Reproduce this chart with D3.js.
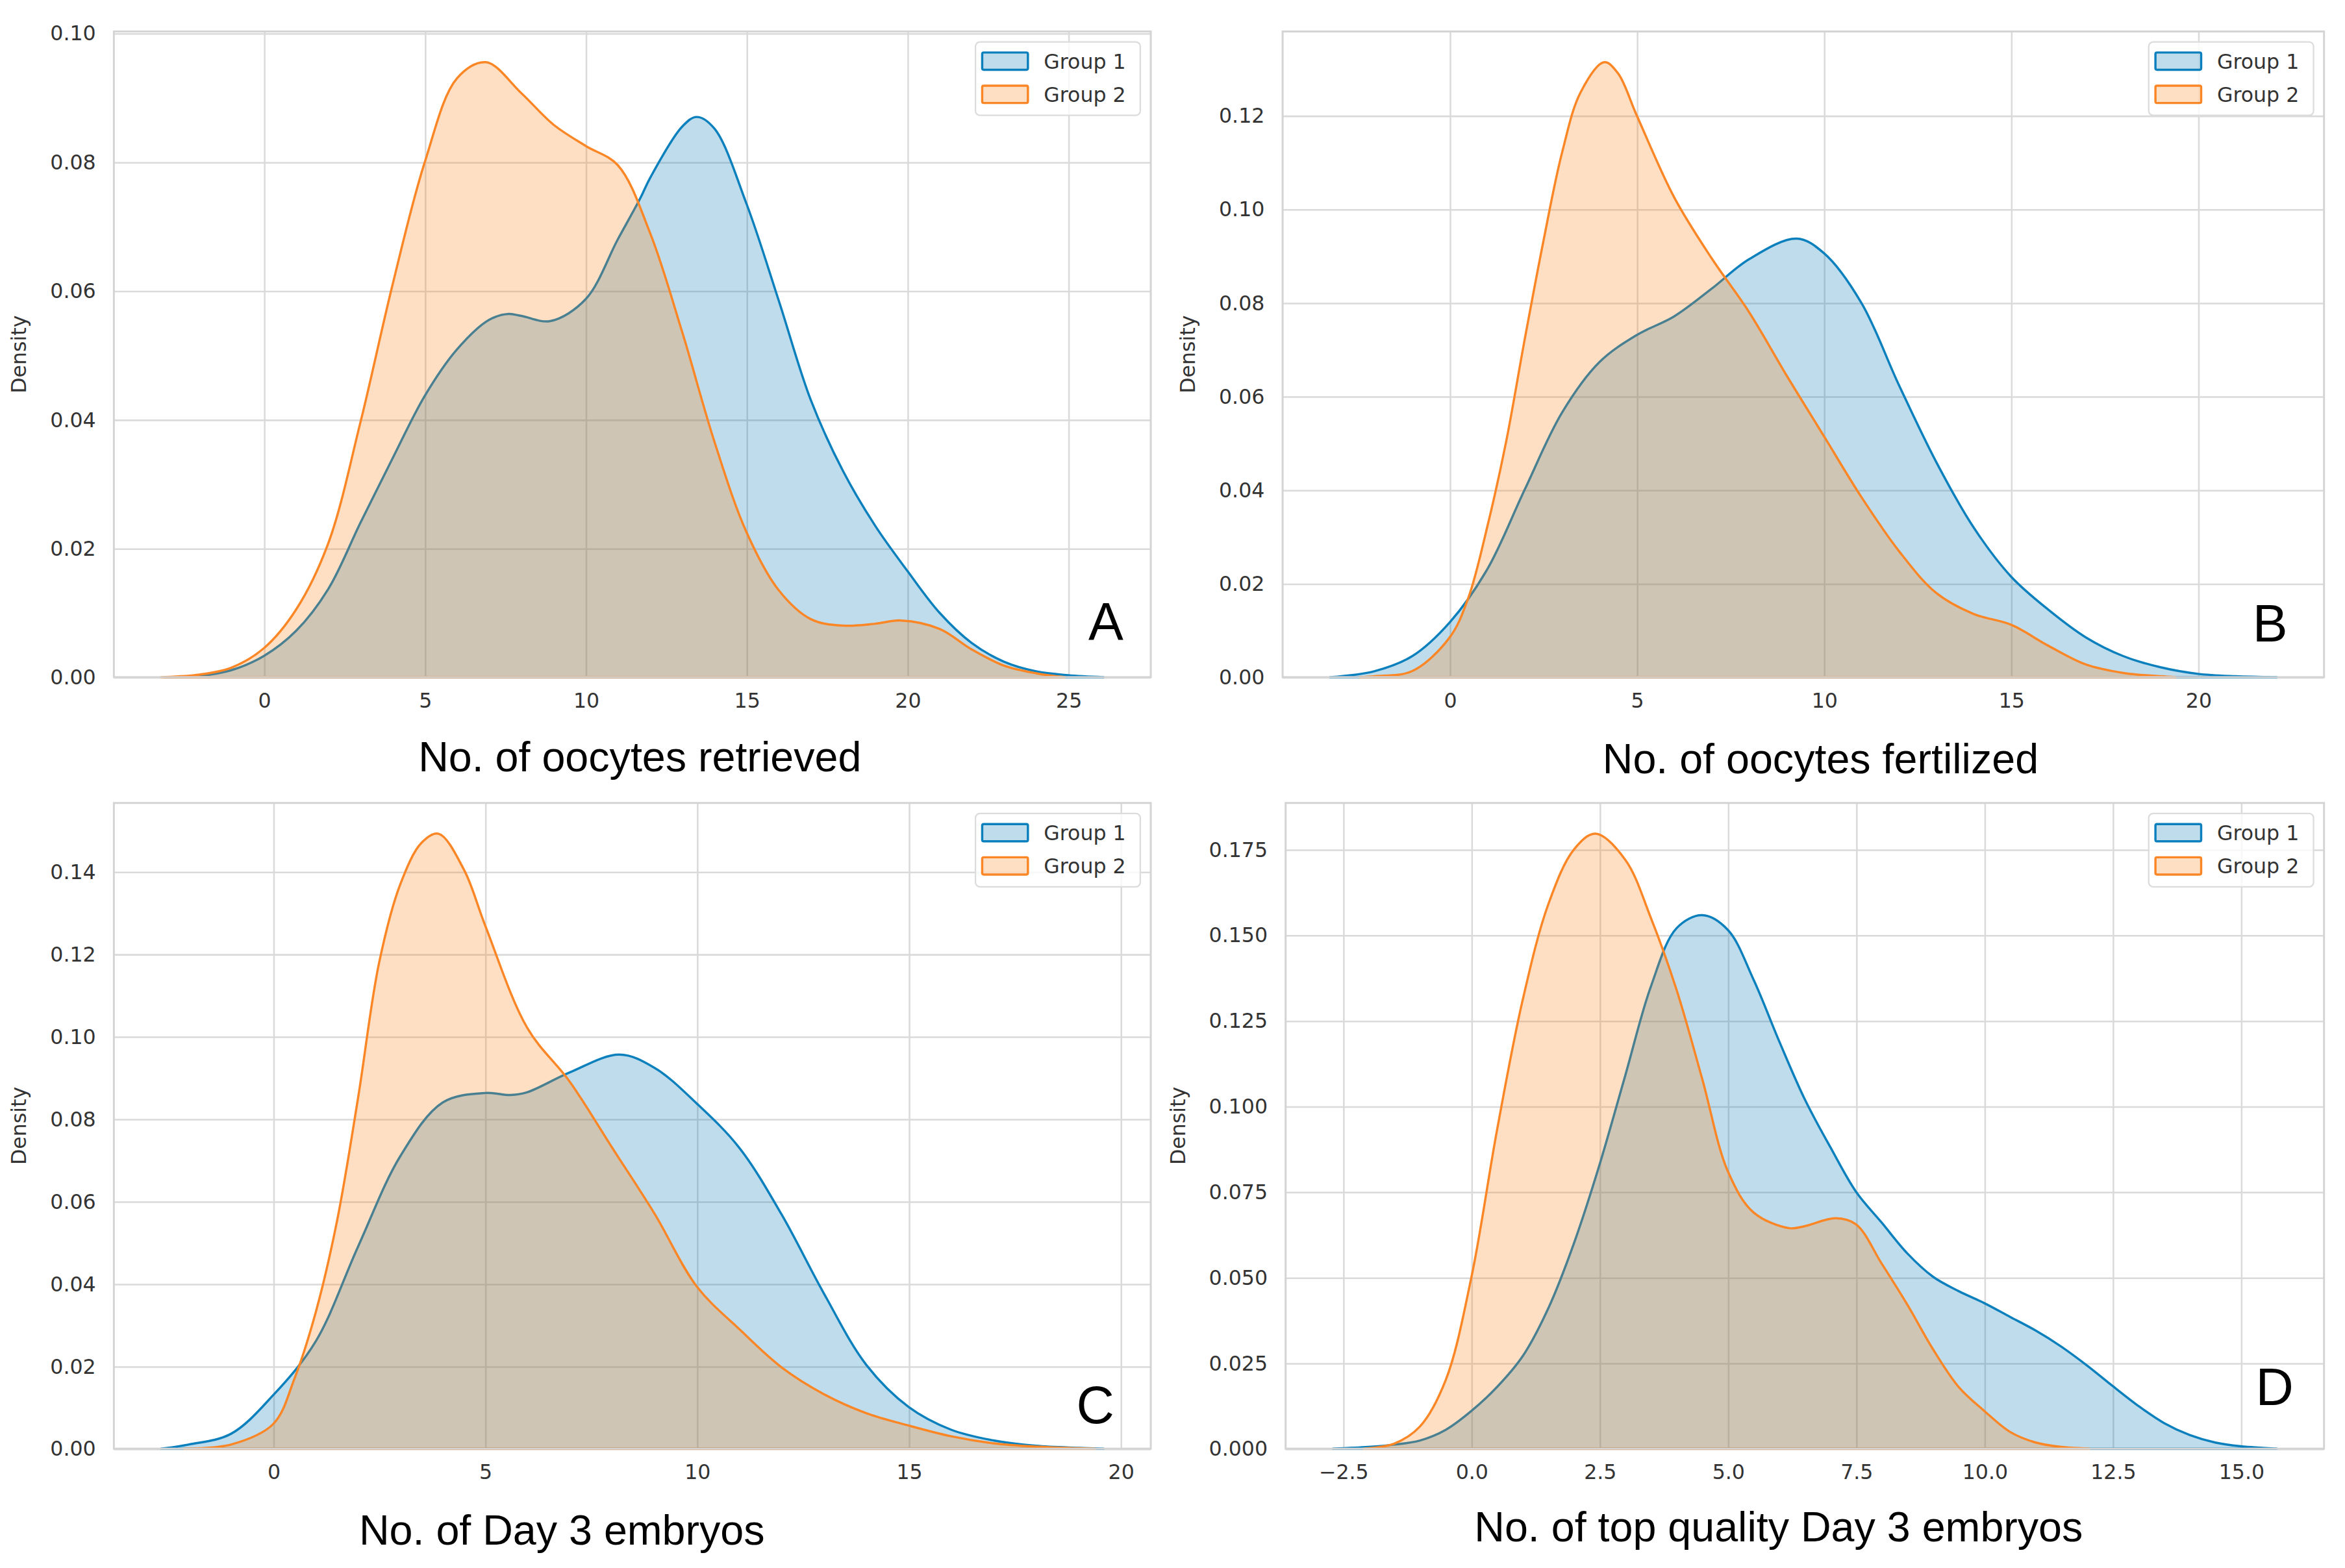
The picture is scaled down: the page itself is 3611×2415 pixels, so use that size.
<!DOCTYPE html>
<html>
<head>
<meta charset="utf-8">
<script src="https://cdn.jsdelivr.net/npm/d3@7"></script>
<style>
  body { margin: 0; background: #fff; }
</style>
</head>
<body>
<svg id="fig"></svg>
<script>
// ---- data: KDE curves (x value, density) ----
var groups = ["Group 1", "Group 2"];
var panelLetters = ["A", "B", "C", "D"];
var axisTitles = ["No. of oocytes retrieved", "No. of oocytes fertilized",
                  "No. of Day 3 embryos", "No. of top quality Day 3 embryos"];

// A: oocytes retrieved
var retrievedG1x = [-3.1, -2, -1, 0, 1, 2, 3, 4, 5, 6, 7, 7.6, 8, 8.9, 10, 11, 11.7, 12, 13, 13.45, 14, 15, 16, 17, 18, 19, 20, 21, 22, 23, 24, 25, 26.1];
var retrievedG1y = [0, 0.0002, 0.0011, 0.0033, 0.0072, 0.0137, 0.024, 0.034, 0.0437, 0.0509, 0.0555, 0.0564, 0.0561, 0.0553, 0.0587, 0.068, 0.0744, 0.0775, 0.0855, 0.087, 0.0852, 0.0735, 0.0585, 0.043, 0.032, 0.0235, 0.0165, 0.010, 0.0053, 0.0024, 0.0009, 0.0003, 0];
var retrievedG2x = [-3.2, -2, -1, 0, 1, 2, 3, 4, 5, 6, 6.9, 8, 9, 10, 11, 12, 13, 14, 15, 16, 17, 18, 19, 19.8, 21, 22, 23, 24, 24.9];
var retrievedG2y = [0, 0.0004, 0.0015, 0.0045, 0.0105, 0.0208, 0.0396, 0.061, 0.080, 0.093, 0.0955, 0.0907, 0.0858, 0.0825, 0.0795, 0.069, 0.0536, 0.0366, 0.0225, 0.0135, 0.009, 0.008, 0.0083, 0.0088, 0.0075, 0.0043, 0.0018, 0.0006, 0];

// B: oocytes fertilized
var fertilizedG1x = [-3.2, -2, -1, 0, 1, 2, 3, 4, 5, 6, 7, 8, 9.27, 10, 11, 12, 13, 14, 15, 16, 17, 18, 19, 20, 21, 22.1];
var fertilizedG1y = [0, 0.0013, 0.0045, 0.0117, 0.023, 0.040, 0.0565, 0.0673, 0.0731, 0.0771, 0.083, 0.0893, 0.0937, 0.0906, 0.080, 0.0625, 0.046, 0.032, 0.0215, 0.0144, 0.0085, 0.0045, 0.0021, 0.0007, 0.0002, 0];
var fertilizedG2x = [-2.4, -2, -1, 0, 0.5, 1, 1.5, 2, 2.5, 3, 3.5, 4.13, 4.5, 5, 6, 7, 8, 9, 10, 11, 12, 13, 14, 15, 16, 17, 18, 19, 19.4];
var fertilizedG2y = [0, 0.0002, 0.0013, 0.0085, 0.017, 0.032, 0.05, 0.072, 0.093, 0.112, 0.125, 0.1314, 0.129, 0.12, 0.1025, 0.0895, 0.078, 0.0645, 0.0515, 0.0385, 0.027, 0.018, 0.0135, 0.0112, 0.0067, 0.0027, 0.0009, 0.0002, 0];

// C: Day 3 embryos
var day3G1x = [-2.65, -2, -1, 0, 1, 2, 3, 4, 5, 5.6, 6, 7, 8.17, 9, 10, 11, 12, 13, 14, 15, 16, 17, 18, 19, 19.6];
var day3G1y = [0, 0.001, 0.0036, 0.013, 0.026, 0.049, 0.071, 0.084, 0.0863, 0.0858, 0.0865, 0.0913, 0.0956, 0.0924, 0.0837, 0.073, 0.0568, 0.0376, 0.0203, 0.0101, 0.0046, 0.002, 0.0007, 0.0002, 0];
var day3G2x = [-2.1, -1, 0, 0.5, 1, 1.5, 2, 2.5, 3, 3.5, 3.9, 4.5, 5, 6, 7, 8, 9, 10, 11, 12, 13, 14, 15, 16, 17, 18, 19, 19.4];
var day3G2y = [0, 0.001, 0.006, 0.017, 0.033, 0.055, 0.085, 0.118, 0.137, 0.147, 0.1492, 0.1405, 0.127, 0.102, 0.089, 0.073, 0.057, 0.0393, 0.029, 0.0197, 0.0132, 0.0086, 0.0056, 0.003, 0.0013, 0.0005, 0.0001, 0];

// D: top quality Day 3 embryos
var topG1x = [-2.7, -2, -1.5, -1, -0.5, 0, 0.5, 1, 1.5, 2, 2.5, 3, 3.5, 4, 4.5, 5, 5.5, 6, 6.5, 7, 7.5, 8, 8.5, 9, 9.5, 10, 10.5, 11, 11.5, 12, 12.5, 13, 13.5, 14, 14.5, 15, 15.7];
var topG1y = [0, 0.0005, 0.0012, 0.0024, 0.0055, 0.011, 0.018, 0.027, 0.041, 0.060, 0.083, 0.109, 0.135, 0.152, 0.1558, 0.1515, 0.137, 0.119, 0.102, 0.088, 0.075, 0.066, 0.057, 0.0502, 0.046, 0.0425, 0.0385, 0.0345, 0.0298, 0.0243, 0.0183, 0.0125, 0.0075, 0.004, 0.0018, 0.0007, 0];
var topG2x = [-2.1, -1.5, -1, -0.5, 0, 0.5, 1, 1.5, 2, 2.42, 3, 3.5, 4, 4.5, 5, 5.5, 6.2, 6.5, 7.1, 7.5, 8, 8.5, 9, 9.5, 10, 10.5, 11, 11.5, 12.05];
var topG2y = [0, 0.0015, 0.0065, 0.02, 0.05, 0.093, 0.131, 0.159, 0.175, 0.1796, 0.172, 0.155, 0.134, 0.108, 0.081, 0.069, 0.0644, 0.065, 0.0673, 0.0655, 0.054, 0.042, 0.029, 0.018, 0.011, 0.0049, 0.0018, 0.0005, 0];

// tick values
var xTicksA = [0, 5, 10, 15, 20, 25];
var xTicksB = [0, 5, 10, 15, 20];
var xTicksC = [0, 5, 10, 15, 20];
var xTicksD = [-2.5, 0, 2.5, 5, 7.5, 10, 12.5, 15];
var yTicksA = [0, 0.02, 0.04, 0.06, 0.08, 0.10];
var yTicksB = [0, 0.02, 0.04, 0.06, 0.08, 0.10, 0.12];
var yTicksC = [0, 0.02, 0.04, 0.06, 0.08, 0.10, 0.12, 0.14];
var yTicksD = [0, 0.025, 0.05, 0.075, 0.1, 0.125, 0.15, 0.175];

// ---- layout (design units, scaled up through the viewBox) ----
var W = 3611, H = 2415;
var DW = 1565, DH = H * DW / W;

var colors = ["#0173b2", "#ff7f0e"];
var strokes = ["#0c80bd", "#fb8626"];

var svg = d3.select("#fig")
    .attr("width", W)
    .attr("height", H)
    .attr("viewBox", "0 0 " + DW + " " + DH);

svg.append("rect").attr("width", DW).attr("height", DH).attr("fill", "#fff");

var panels = [
  { letter: panelLetters[0], title: axisTitles[0],
    series: [[retrievedG1x, retrievedG1y], [retrievedG2x, retrievedG2y]],
    xTicks: xTicksA, yTicks: yTicksA, xFmt: d3.format("d"), yFmt: d3.format(".2f"),
    box: [76, 768, 21, 452], titlePos: [427, 515], letterPos: [738, 427] },
  { letter: panelLetters[1], title: axisTitles[1],
    series: [[fertilizedG1x, fertilizedG1y], [fertilizedG2x, fertilizedG2y]],
    xTicks: xTicksB, yTicks: yTicksB, xFmt: d3.format("d"), yFmt: d3.format(".2f"),
    box: [856, 1551, 21, 452], titlePos: [1215, 516], letterPos: [1515, 428] },
  { letter: panelLetters[2], title: axisTitles[2],
    series: [[day3G1x, day3G1y], [day3G2x, day3G2y]],
    xTicks: xTicksC, yTicks: yTicksC, xFmt: d3.format("d"), yFmt: d3.format(".2f"),
    box: [76, 768, 536, 967], titlePos: [375, 1031], letterPos: [731, 950] },
  { letter: panelLetters[3], title: axisTitles[3],
    series: [[topG1x, topG1y], [topG2x, topG2y]],
    xTicks: xTicksD, yTicks: yTicksD, xFmt: d3.format(".1f"), yFmt: d3.format(".3f"),
    box: [858, 1551, 536, 967], titlePos: [1187, 1029], letterPos: [1518, 938] }
];

panels.forEach(function (p) {
  var l = p.box[0], r = p.box[1], t = p.box[2], b = p.box[3];

  var pts = p.series.map(function (s) {
    return s[0].map(function (xv, i) { return { x: xv, y: s[1][i] }; });
  });
  var allX = d3.merge(p.series.map(function (s) { return s[0]; }));
  var allY = d3.merge(p.series.map(function (s) { return s[1]; }));
  var xmin = d3.min(allX), xmax = d3.max(allX), pad = (xmax - xmin) * 0.05;

  var x = d3.scaleLinear().domain([xmin - pad, xmax + pad]).range([l, r]);
  var y = d3.scaleLinear().domain([0, d3.max(allY) * 1.05]).range([b, t]);

  var g = svg.append("g");

  // grid + tick labels
  var xAxis = g.append("g")
      .attr("transform", "translate(0," + b + ")")
      .call(d3.axisBottom(x).tickValues(p.xTicks).tickFormat(p.xFmt)
            .tickSize(-(b - t)).tickPadding(10.5));
  var yAxis = g.append("g")
      .attr("transform", "translate(" + l + ",0)")
      .call(d3.axisLeft(y).tickValues(p.yTicks).tickFormat(p.yFmt)
            .tickSize(-(r - l)).tickPadding(12));

  [xAxis, yAxis].forEach(function (a) {
    a.select(".domain").remove();
    a.attr("font-family", "DejaVu Sans").attr("font-size", 13.7);
    a.selectAll(".tick line").attr("stroke", "#dadada").attr("stroke-width", 1.1);
    a.selectAll(".tick text").attr("fill", "#333");
  });

  // density fills
  var area = d3.area()
      .x(function (d) { return x(d.x); })
      .y0(y(0))
      .y1(function (d) { return Math.min(y(d.y), y(0)); })
      .curve(d3.curveCatmullRom.alpha(0.5));

  pts.forEach(function (s, i) {
    g.append("path")
        .datum(s)
        .attr("d", function (d) { return area(d) + "Z"; })
        .attr("fill", colors[i])
        .attr("fill-opacity", 0.25)
        .attr("stroke", strokes[i])
        .attr("stroke-width", 1.5)
        .attr("stroke-linejoin", "round");
  });

  // spines
  g.append("rect")
      .attr("x", l).attr("y", t)
      .attr("width", r - l).attr("height", b - t)
      .attr("fill", "none")
      .attr("stroke", "#d4d4d4")
      .attr("stroke-width", 1.3);

  // y label, placed left of the widest tick label
  var tickW = d3.max(yAxis.selectAll(".tick text").nodes(), function (n) { return n.getBBox().width; });
  var yl = l - 12 - tickW - 16;
  g.append("text")
      .attr("transform", "translate(" + yl + "," + ((t + b) / 2) + ") rotate(-90)")
      .attr("text-anchor", "middle")
      .attr("font-family", "DejaVu Sans")
      .attr("font-size", 13.7)
      .attr("fill", "#333")
      .text("Density");

  // legend
  var lw = 110, lh = 49;
  var lg = g.append("g").attr("transform", "translate(" + (r - 7 - lw) + "," + (t + 7) + ")");
  lg.append("rect")
      .attr("width", lw).attr("height", lh).attr("rx", 3)
      .attr("fill", "#fff").attr("fill-opacity", 0.8)
      .attr("stroke", "#dcdcdc").attr("stroke-width", 1);
  groups.forEach(function (name, i) {
    var cy = 12.8 + i * 22.2;
    lg.append("rect")
        .attr("x", 4.5).attr("y", cy - 5.75)
        .attr("width", 30.5).attr("height", 11.5)
        .attr("rx", 1)
        .attr("fill", colors[i]).attr("fill-opacity", 0.25)
        .attr("stroke", strokes[i]).attr("stroke-width", 1.5);
    lg.append("text")
        .attr("x", 45.6).attr("y", cy + 5)
        .attr("font-family", "DejaVu Sans")
        .attr("font-size", 13.7)
        .attr("fill", "#333")
        .text(name);
  });

  // axis title and panel letter
  svg.append("text")
      .attr("x", p.titlePos[0]).attr("y", p.titlePos[1])
      .attr("text-anchor", "middle")
      .attr("font-family", "Liberation Sans, Arial, sans-serif")
      .attr("font-size", 28)
      .attr("fill", "#000")
      .text(p.title);

  svg.append("text")
      .attr("x", p.letterPos[0]).attr("y", p.letterPos[1])
      .attr("text-anchor", "middle")
      .attr("font-family", "Liberation Sans, Arial, sans-serif")
      .attr("font-size", 35)
      .attr("fill", "#000")
      .text(p.letter);
});
</script>
</body>
</html>
